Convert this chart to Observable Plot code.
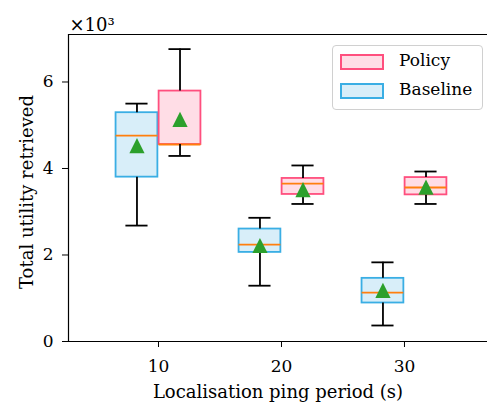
<!DOCTYPE html>
<html>
<head>
<meta charset="utf-8">
<script src="https://cdn.jsdelivr.net/npm/d3@7"></script>
<script src="https://cdn.jsdelivr.net/npm/@observablehq/plot@0.6"></script>
<style>
  html, body { margin: 0; padding: 0; background: #fff; }
  #wrap { position: relative; width: 487px; height: 403px; overflow: hidden; font-family: "DejaVu Serif", serif; }
  #legend { position: absolute; left: 332px; top: 45px; width: 151px; height: 65px; border: 1px solid #d0d0d0; border-radius: 4px; background: rgba(255,255,255,0.85); box-sizing: border-box; }
  .item { position: absolute; left: 7px; height: 16px; font-size: 17px; }
  .patch { position: absolute; left: 0; top: 0; width: 44px; height: 16px; box-sizing: border-box; border: 2px solid; }
  .lab { position: absolute; left: 59px; top: -4px; white-space: nowrap; }
</style>
</head>
<body>
<div id="wrap"></div>
<script>
const periods = [10, 20, 30];
const seriesNames = ["Baseline", "Policy"];
const baselineLow    = [2680, 1290, 370];
const baselineQ1     = [3800, 2060, 890];
const baselineMedian = [4760, 2240, 1130];
const baselineQ3     = [5290, 2600, 1460];
const baselineHigh   = [5500, 2860, 1830];
const baselineMean   = [4530, 2220, 1180];
const policyLow      = [4290, 3180, 3180];
const policyQ1       = [4555, 3400, 3390];
const policyMedian   = [4555, 3650, 3560];
const policyQ3       = [5790, 3770, 3790];
const policyHigh     = [6760, 4070, 3930];
const policyMean     = [5135, 3510, 3570];
const yTicks = [0, 2000, 4000, 6000];

const FONT = "DejaVu Serif, serif";
const colors = {
  Baseline: {stroke: "#3aaee4", fill: "#d8eef9"},
  Policy:   {stroke: "#ff4f7e", fill: "#ffdde6"}
};
const offsets = {Baseline: -1.75, Policy: 1.75};
const halfW = 1.7, capW = 0.9;

const rows = [];
periods.forEach((p, i) => {
  rows.push({series: "Baseline", period: p, low: baselineLow[i], q1: baselineQ1[i], med: baselineMedian[i], q3: baselineQ3[i], high: baselineHigh[i], mean: baselineMean[i]});
  rows.push({series: "Policy", period: p, low: policyLow[i], q1: policyQ1[i], med: policyMedian[i], q3: policyQ3[i], high: policyHigh[i], mean: policyMean[i]});
});
const cx = d => d.period + offsets[d.series];

const mplTriangle = {
  draw(ctx, size) {
    const r = Math.sqrt(size / Math.PI);
    ctx.moveTo(0, -r);
    ctx.lineTo(r, r);
    ctx.lineTo(-r, r);
    ctx.closePath();
  }
};

const xMin = 2.683, xMax = 36.75, yMax = 7098;

const chart = Plot.plot({
  width: 487,
  height: 403,
  marginLeft: 68,
  marginRight: 0,
  marginTop: 34,
  marginBottom: 62,
  style: {fontFamily: FONT, fontSize: "17px", background: "white", color: "black"},
  x: {domain: [xMin, xMax]},
  y: {domain: [0, yMax]},
  marks: [
    Plot.rect(rows, {x1: d => cx(d) - halfW, x2: d => cx(d) + halfW, y1: "q1", y2: "q3",
      fill: d => colors[d.series].fill, stroke: d => colors[d.series].stroke, strokeWidth: 1.8}),
    Plot.ruleY(rows, {y: "med", x1: d => cx(d) - halfW, x2: d => cx(d) + halfW, stroke: "#ff7f0e", strokeWidth: 1.8}),
    Plot.ruleX(rows, {x: cx, y1: "low", y2: "q1", stroke: "black", strokeWidth: 1.8}),
    Plot.ruleX(rows, {x: cx, y1: "q3", y2: "high", stroke: "black", strokeWidth: 1.8}),
    Plot.ruleY(rows, {y: "low", x1: d => cx(d) - capW, x2: d => cx(d) + capW, stroke: "black", strokeWidth: 1.8}),
    Plot.ruleY(rows, {y: "high", x1: d => cx(d) - capW, x2: d => cx(d) + capW, stroke: "black", strokeWidth: 1.8}),
    Plot.dot(rows, {x: cx, y: "mean", symbol: mplTriangle, r: 7.6, fill: "#2ca02c", stroke: "none"}),
    Plot.ruleX([xMin], {stroke: "black", strokeWidth: 1.2}),
    Plot.ruleY([0, yMax], {stroke: "black", strokeWidth: 1.2}),
    Plot.axisY(yTicks, {tickFormat: d => d / 1000, tickSize: 6, tickPadding: 9, label: null, fontSize: 17, fontFamily: FONT}),
    Plot.axisX(periods, {tickFormat: d => d, tickSize: 6, tickPadding: 12, label: null, fontSize: 17, fontFamily: FONT}),
    Plot.text(["Total utility retrieved"], {frameAnchor: "left", textAnchor: "middle", lineAnchor: "middle", dx: -41, dy: 4, rotate: -90, fontSize: 18, fontFamily: FONT}),
    Plot.text(["Localisation ping period (s)"], {frameAnchor: "bottom", textAnchor: "middle", lineAnchor: "middle", dy: 51, fontSize: 18, fontFamily: FONT}),
    Plot.text(["×10³"], {frameAnchor: "top-left", lineAnchor: "bottom", dx: 1, dy: -4, textAnchor: "start", fontSize: 18, fontFamily: FONT})
  ]
});

const wrap = document.getElementById("wrap");
wrap.appendChild(chart);

const legend = document.createElement("div");
legend.id = "legend";
["Policy", "Baseline"].forEach((s, i) => {
  const item = document.createElement("div");
  item.className = "item";
  item.style.top = (i === 0 ? 8 : 37) + "px";
  const patch = document.createElement("div");
  patch.className = "patch";
  patch.style.borderColor = colors[s].stroke;
  patch.style.background = colors[s].fill;
  const lab = document.createElement("span");
  lab.className = "lab";
  lab.textContent = s;
  item.appendChild(patch);
  item.appendChild(lab);
  legend.appendChild(item);
});
wrap.appendChild(legend);
</script>
</body>
</html>
